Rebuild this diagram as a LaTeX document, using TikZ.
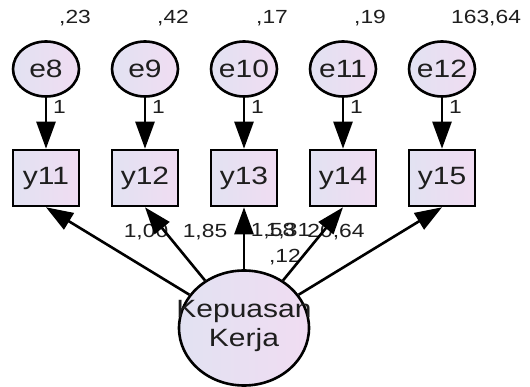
\documentclass[tikz,border=0pt]{standalone}
\usepackage{fontspec}
\setmainfont{Liberation Sans}
\usepackage{graphicx}
\usetikzlibrary{arrows.meta,shapes.geometric}
\definecolor{fillA}{RGB}{226,226,242}
\definecolor{fillB}{RGB}{240,220,242}
\definecolor{txt}{RGB}{30,30,30}
\newcommand{\sx}[1]{\scalebox{1.2}[1]{#1}}
\tikzset{
 lat/.style={ellipse, draw=black, line width=2.6pt, left color=fillA, right color=fillB, minimum width=66pt, minimum height=55pt, inner sep=0pt},
 big/.style={lat, minimum width=130pt, minimum height=115pt},
 obs/.style={rectangle, draw=black, line width=2.6pt, left color=fillA, right color=fillB, minimum width=66pt, minimum height=56pt, inner sep=0pt, font=\fontsize{25}{28}\selectfont, text=txt},
 ntext/.style={font=\fontsize{25}{28}\selectfont, text=txt, inner sep=0pt},
 est/.style={font=\fontsize{19}{21}\selectfont, text=txt, inner sep=0pt},
 arr/.style={line width=2.6pt, -{Triangle[length=27pt,width=19pt]}},
}
\begin{document}
\begin{tikzpicture}[x=1pt,y=-1pt]
\useasboundingbox[fill=white] (0,0) rectangle (530,387);
% regression weights and variance (drawn first, arrows cover them)
\node[est] (w1) at (146,232) {\sx{1,00}};
\node[est] (w2) at (205,232) {\sx{1,85}};
\node[est] (w3) at (273,231) {\sx{1,58}};
\node[est] (w4) at (288,231) {\sx{1,31}};
\node[est] (w5) at (336,232) {\sx{20,64}};
\node[est] (vk) at (285,257) {\sx{,12}};
% error terms
\node[lat] (e8)  at (46,69)  {};
\node[lat] (e9)  at (145,69) {};
\node[lat] (e10) at (244,69) {};
\node[lat] (e11) at (343,69) {};
\node[lat] (e12) at (442,69) {};
\node[ntext] (te8)  at (e8)  {\sx{e8}};
\node[ntext] (te9)  at (e9)  {\sx{e9}};
\node[ntext] (te10) at (e10) {\sx{e10}};
\node[ntext] (te11) at (e11) {\sx{e11}};
\node[ntext] (te12) at (e12) {\sx{e12}};
% variances
\node[est, anchor=west] (v8)  at (59,18)  {\sx{,23}};
\node[est, anchor=west] (v9)  at (157,18) {\sx{,42}};
\node[est, anchor=west] (v10) at (256,18) {\sx{,17}};
\node[est, anchor=west] (v11) at (354,18) {\sx{,19}};
\node[est, anchor=west] (v12) at (451,18) {\sx{163,64}};
% indicators
\node[obs] (y11) at (46,178)  {\sx{y11}};
\node[obs] (y12) at (145,178) {\sx{y12}};
\node[obs] (y13) at (244,178) {\sx{y13}};
\node[obs] (y14) at (343,178) {\sx{y14}};
\node[obs] (y15) at (442,178) {\sx{y15}};
% latent
\node[big] (K) at (244,328) {};
\node[ntext, font=\fontsize{25}{29}\selectfont, align=center] (Kt) at (244,326) {\sx{Kepuasan}\\\sx{Kerja}};
% error arrows
\foreach \e/\y in {e8/y11,e9/y12,e10/y13,e11/y14,e12/y15}
  \draw[arr] (\e) -- (\y);
% fixed loadings
\node[est, anchor=west] (f8)  at (53,107)  {\sx{1}};
\node[est, anchor=west] (f9)  at (152,107) {\sx{1}};
\node[est, anchor=west] (f10) at (251,107) {\sx{1}};
\node[est, anchor=west] (f11) at (350,107) {\sx{1}};
\node[est, anchor=west] (f12) at (449,107) {\sx{1}};
% loadings
\foreach \y in {y11,y12,y13,y14,y15}
  \draw[arr] (K) -- (\y.south);
\end{tikzpicture}
\end{document}
